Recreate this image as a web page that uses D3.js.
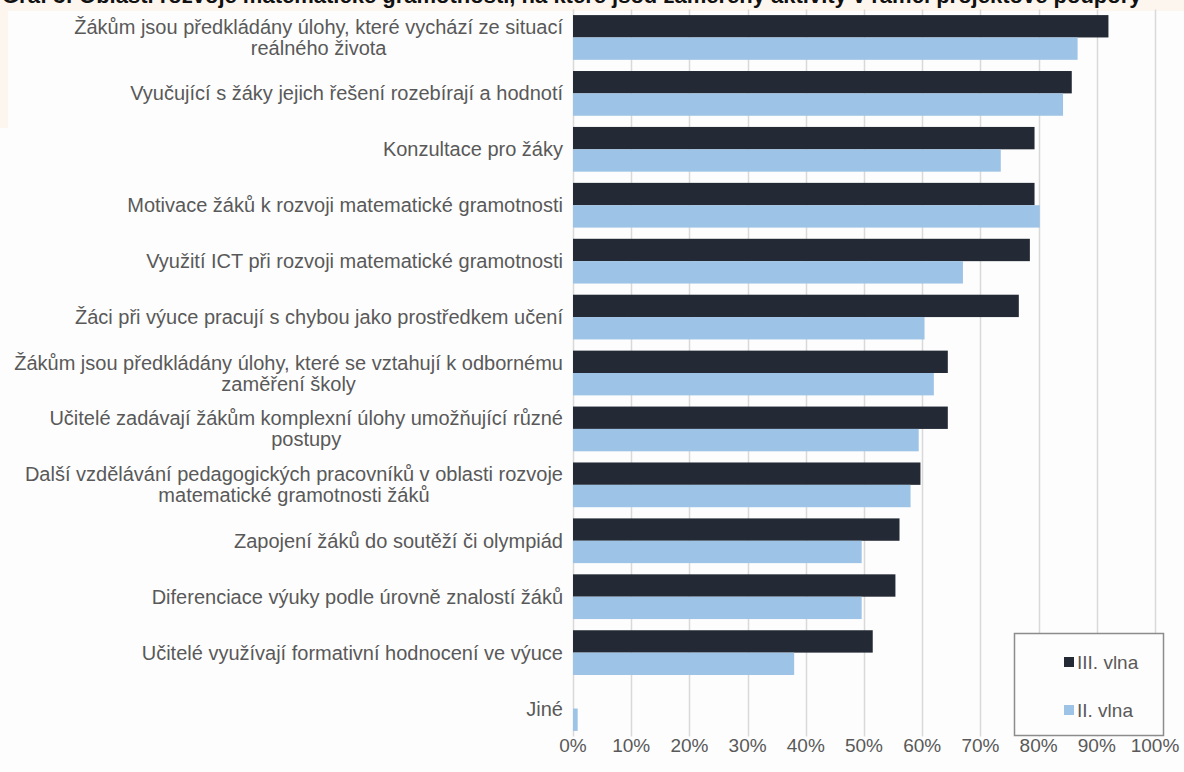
<!DOCTYPE html>
<html>
<head>
<meta charset="utf-8">
<script src="https://cdn.jsdelivr.net/npm/d3@7"></script>
<style>
  html, body { margin: 0; padding: 0; background: #fdfdfd; }
  svg { display: block; font-family: "Liberation Sans", Arial, sans-serif; }
</style>
</head>
<body>
<div id="chart"></div>
<script>
// categories (top to bottom), each label split into its lines
const categories = [
  ['Žákům jsou předkládány úlohy, které vychází ze situací', 'reálného života'],
  ['Vyučující s žáky jejich řešení rozebírají a hodnotí'],
  ['Konzultace pro žáky'],
  ['Motivace žáků k rozvoji matematické gramotnosti'],
  ['Využití ICT při rozvoji matematické gramotnosti'],
  ['Žáci při výuce pracují s chybou jako prostředkem učení'],
  ['Žákům jsou předkládány úlohy, které se vztahují k odbornému', 'zaměření školy'],
  ['Učitelé zadávají žákům komplexní úlohy umožňující různé', 'postupy'],
  ['Další vzdělávání pedagogických pracovníků v oblasti rozvoje', 'matematické gramotnosti žáků'],
  ['Zapojení žáků do soutěží či olympiád'],
  ['Diferenciace výuky podle úrovně znalostí žáků'],
  ['Učitelé využívají formativní hodnocení ve výuce'],
  ['Jiné']
];

// share of schools, %
const wave3 = [92, 85.7, 79.3, 79.3, 78.5, 76.6, 64.4, 64.4, 59.7, 56.1, 55.4, 51.5, 0];
const wave2 = [86.7, 84.2, 73.5, 80.2, 67, 60.4, 62, 59.4, 58, 49.6, 49.6, 38, 0.8];

const seriesNames = ['III. vlna', 'II. vlna'];
const xTicks = [0, 10, 20, 30, 40, 50, 60, 70, 80, 90, 100];

const colors = { 'III. vlna': '#232a35', 'II. vlna': '#9dc3e6' };

const width = 1184, height = 772;
const plotLeft = 573, plotRight = 1155, plotTop = 9.5, plotBottom = 736.5;

const svg = d3.select('#chart').append('svg')
  .attr('width', width)
  .attr('height', height);

// page background behind the chart (peach strip at the top / left edge)
svg.append('rect').attr('x', 0).attr('y', 0).attr('width', width).attr('height', 11).attr('fill', '#fdf6ef');
svg.append('rect').attr('x', 0).attr('y', 0).attr('width', 8).attr('height', 128).attr('fill', '#fdf6ef');

// title, mostly cut off at the top edge
svg.append('text')
  .attr('x', 2)
  .attr('y', 3)
  .attr('font-size', 22)
  .attr('font-weight', 'bold')
  .attr('fill', '#111')
  .text('Graf 3: Oblasti rozvoje matematické gramotnosti, na které jsou zaměřeny aktivity v rámci projektové podpory');

const keys = categories.map((d, i) => i);

const x = d3.scaleLinear().domain([0, 100]).range([plotLeft, plotRight]);
const y = d3.scaleBand().domain(keys).range([plotTop, plotBottom]).paddingInner(0.2).paddingOuter(0.1);
const ySub = d3.scaleBand().domain(seriesNames).range([0, y.bandwidth()]);

// gridlines
svg.append('g')
  .selectAll('line')
  .data(xTicks)
  .join('line')
  .attr('x1', d => Math.round(x(d)) + 0.5)
  .attr('x2', d => Math.round(x(d)) + 0.5)
  .attr('y1', plotTop)
  .attr('y2', plotBottom)
  .attr('stroke', '#d9d9d9')
  .attr('stroke-width', 1.5);

// bars
const rows = keys.map(i => ({ i, values: [wave3[i], wave2[i]] }));
const groups = svg.append('g')
  .selectAll('g')
  .data(rows)
  .join('g')
  .attr('transform', d => `translate(0,${y(d.i)})`);

groups.selectAll('rect')
  .data(d => d.values.map((v, k) => ({ name: seriesNames[k], v })))
  .join('rect')
  .attr('x', x(0))
  .attr('y', d => ySub(d.name))
  .attr('width', d => x(d.v) - x(0))
  .attr('height', ySub.bandwidth())
  .attr('fill', d => colors[d.name]);

// category labels: multi-line labels are centred on their longest line
const labelRight = 563;
const lineH = 21;
const labels = svg.append('g')
  .attr('font-size', 20)
  .attr('fill', '#595959');

categories.forEach((lines, i) => {
  const cy = y(i) + y.bandwidth() / 2;
  const t = labels.append('text')
    .attr('text-anchor', 'end')
    .attr('x', labelRight);
  lines.forEach((line, j) => {
    t.append('tspan')
      .attr('x', labelRight)
      .attr('y', cy + (j - (lines.length - 1) / 2) * lineH)
      .attr('dy', '0.35em')
      .text(line);
  });
  if (lines.length > 1) {
    const w = t.select('tspan').node().getComputedTextLength();
    t.attr('text-anchor', 'middle');
    t.selectAll('tspan').attr('x', labelRight - w / 2);
  }
});

// x axis tick labels
svg.append('g')
  .attr('font-size', 19)
  .attr('fill', '#595959')
  .attr('text-anchor', 'middle')
  .selectAll('text')
  .data(xTicks)
  .join('text')
  .attr('x', d => x(d))
  .attr('y', 752)
  .text(d => d + '%');

// legend
const legend = svg.append('g').attr('transform', 'translate(1014,633)');
legend.append('rect')
  .attr('x', 0.5)
  .attr('y', 0.5)
  .attr('width', 149)
  .attr('height', 102)
  .attr('fill', '#fdfdfd')
  .attr('stroke', '#8c8c8c')
  .attr('stroke-width', 1.5);

const item = legend.selectAll('g.item')
  .data(seriesNames)
  .join('g')
  .attr('class', 'item')
  .attr('transform', (d, i) => `translate(50,${29 + i * 48})`);

item.append('rect')
  .attr('x', 0)
  .attr('y', -5)
  .attr('width', 10)
  .attr('height', 10)
  .attr('fill', d => colors[d]);

item.append('text')
  .attr('x', 13)
  .attr('dy', '0.35em')
  .attr('font-size', 19)
  .attr('fill', '#595959')
  .text(d => d);
</script>
</body>
</html>
